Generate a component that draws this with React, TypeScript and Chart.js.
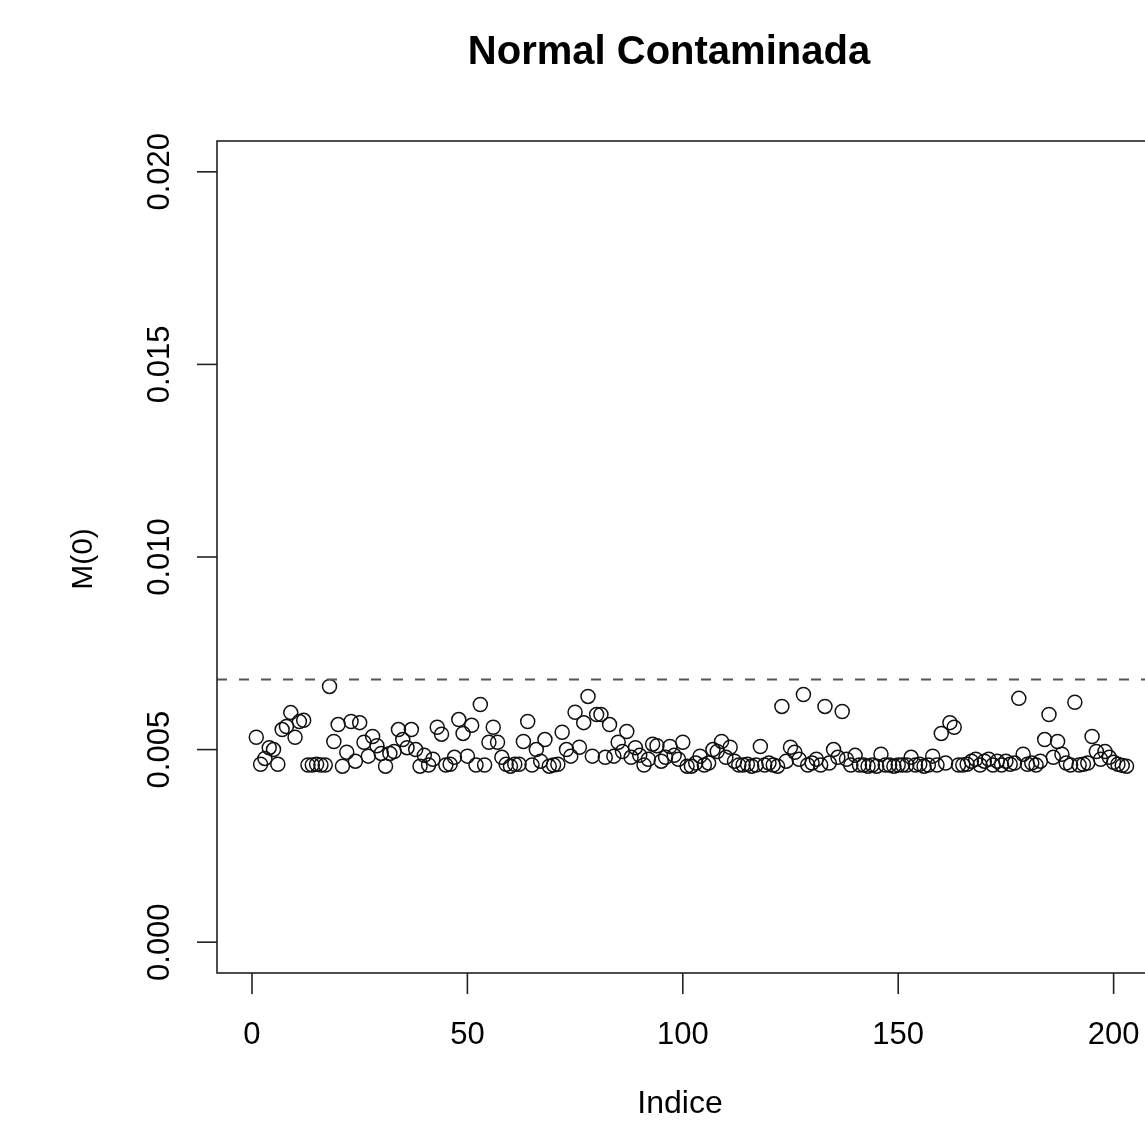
import React, { useEffect, useRef } from "react";
import { Chart, registerables } from "chart.js";

Chart.register(...registerables);

const title = "Normal Contaminada";
const xTitle = "Indice";
const yTitle = "M(0)";
const xTicks = [0, 50, 100, 150, 200];
const yTicks = [0, 0.005, 0.01, 0.015, 0.02];
const yTickLabels = ["0.000", "0.005", "0.010", "0.015", "0.020"];
const threshold = 0.00682;

// M(0) values (x 1e-3) for Indice 1..203
const m0Milli = [
  5.32, 4.62, 4.77, 5.05, 5.0, 4.62, 5.52, 5.6, 5.96, 5.32,
  5.73, 5.76, 4.6, 4.6, 4.62, 4.6, 4.6, 6.64, 5.21, 5.65,
  4.57, 4.93, 5.73, 4.7, 5.7, 5.19, 4.83, 5.34, 5.1, 4.9,
  4.57, 4.9, 4.95, 5.52, 5.26, 5.05, 5.52, 5.0, 4.57, 4.85,
  4.6, 4.75, 5.58, 5.4, 4.6, 4.62, 4.8, 5.78, 5.42, 4.83,
  5.63, 4.6, 6.17, 4.6, 5.19, 5.58, 5.19, 4.8, 4.62, 4.57,
  4.62, 4.62, 5.21, 5.73, 4.6, 5.0, 4.7, 5.26, 4.57, 4.6,
  4.62, 5.45, 5.0, 4.83, 5.97, 5.06, 5.7, 6.38, 4.83, 5.91,
  5.91, 4.8, 5.65, 4.83, 5.19, 4.95, 5.47, 4.8, 5.05, 4.85,
  4.6, 4.75, 5.14, 5.1, 4.7, 4.8, 5.08, 4.85, 4.75, 5.19,
  4.57, 4.57, 4.65, 4.83, 4.6, 4.65, 5.0, 4.95, 5.21, 4.8,
  5.06, 4.7, 4.6, 4.6, 4.62, 4.57, 4.6, 5.08, 4.6, 4.65,
  4.6, 4.57, 6.12, 4.7, 5.06, 4.93, 4.75, 6.43, 4.6, 4.65,
  4.75, 4.6, 6.12, 4.65, 5.0, 4.8, 5.99, 4.75, 4.6, 4.85,
  4.6, 4.6, 4.57, 4.6, 4.57, 4.88, 4.6, 4.6, 4.57, 4.6,
  4.6, 4.6, 4.8, 4.6, 4.62, 4.57, 4.6, 4.83, 4.6, 5.42,
  4.65, 5.7, 5.58, 4.6, 4.6, 4.62, 4.7, 4.75, 4.6, 4.7,
  4.75, 4.6, 4.7, 4.6, 4.7, 4.62, 4.65, 6.33, 4.88, 4.62,
  4.65, 4.6, 4.7, 5.26, 5.91, 4.8, 5.21, 4.88, 4.65, 4.6,
  6.23, 4.6, 4.62, 4.65, 5.34, 4.95, 4.75, 4.95, 4.8, 4.67,
  4.62, 4.59, 4.57,
];

const X_MIN = -8.12;
const X_MAX = 211;
const Y_MIN = -0.0008;
const Y_MAX = 0.0208;

const FONT = "'Liberation Sans', Arial, sans-serif";

export default function App() {
  const ref = useRef<HTMLCanvasElement | null>(null);

  useEffect(() => {
    const canvas = ref.current;
    if (!canvas) return;
    const points = m0Milli.map((v, i) => ({ x: i + 1, y: v / 1000 }));

    const rPlot = {
      id: "rPlot",
      afterDraw(chart: any) {
        const ctx = chart.ctx as CanvasRenderingContext2D;
        const area = chart.chartArea;
        const xs = chart.scales.x;
        const ys = chart.scales.y;
        ctx.save();
        ctx.strokeStyle = "#222";
        ctx.fillStyle = "#000";
        ctx.lineWidth = 1.6;
        ctx.strokeRect(area.left, area.top, area.right - area.left, area.bottom - area.top);
        ctx.font = `31px ${FONT}`;
        yTicks.forEach((v, i) => {
          const py = ys.getPixelForValue(v);
          ctx.beginPath();
          ctx.moveTo(area.left - 20, py);
          ctx.lineTo(area.left, py);
          ctx.stroke();
          ctx.save();
          ctx.translate(160, py);
          ctx.rotate(-Math.PI / 2);
          ctx.textAlign = "center";
          ctx.textBaseline = "middle";
          ctx.fillText(yTickLabels[i], 0, 0);
          ctx.restore();
        });
        xTicks.forEach((v) => {
          const px = xs.getPixelForValue(v);
          ctx.beginPath();
          ctx.moveTo(px, area.bottom);
          ctx.lineTo(px, area.bottom + 21);
          ctx.stroke();
          ctx.textAlign = "center";
          ctx.textBaseline = "middle";
          ctx.fillText(String(v), px, 1035);
        });
        ctx.font = `32px ${FONT}`;
        ctx.fillText(xTitle, 680, 1104);
        ctx.font = `30px ${FONT}`;
        ctx.save();
        ctx.translate(84, 559);
        ctx.rotate(-Math.PI / 2);
        ctx.fillText(yTitle, 0, 0);
        ctx.restore();
        ctx.font = `bold 40px ${FONT}`;
        ctx.fillText(title, 669, 53);
        ctx.restore();
      },
    };

    const chart = new Chart(canvas, {
      type: "scatter",
      data: {
        datasets: [
          {
            type: "line",
            data: [
              { x: X_MIN, y: threshold },
              { x: X_MAX, y: threshold },
            ],
            borderColor: "#555",
            borderWidth: 2,
            borderDash: [10, 12],
            pointRadius: 0,
            fill: false,
          } as any,
          {
            data: points,
            pointStyle: "circle",
            pointRadius: 7,
            pointBorderWidth: 1.5,
            borderColor: "#111",
            backgroundColor: "rgba(0,0,0,0)",
            pointBackgroundColor: "rgba(0,0,0,0)",
            pointBorderColor: "#111",
          } as any,
        ],
      },
      options: {
        animation: false,
        responsive: false,
        maintainAspectRatio: false,
        devicePixelRatio: 1,
        layout: { padding: { left: 217, top: 141, right: 39, bottom: 148 } },
        plugins: { legend: { display: false }, tooltip: { enabled: false } },
        scales: {
          x: { type: "linear", min: X_MIN, max: X_MAX, display: false },
          y: { type: "linear", min: Y_MIN, max: Y_MAX, display: false },
        },
      },
      plugins: [rPlot],
    });
    return () => chart.destroy();
  }, []);

  return (
    <div
      style={{
        position: "absolute",
        left: 0,
        top: 0,
        width: 1145,
        height: 1121,
        overflow: "hidden",
        background: "#fff",
      }}
    >
      <canvas ref={ref} width={1200} height={1121} style={{ display: "block" }} />
    </div>
  );
}
